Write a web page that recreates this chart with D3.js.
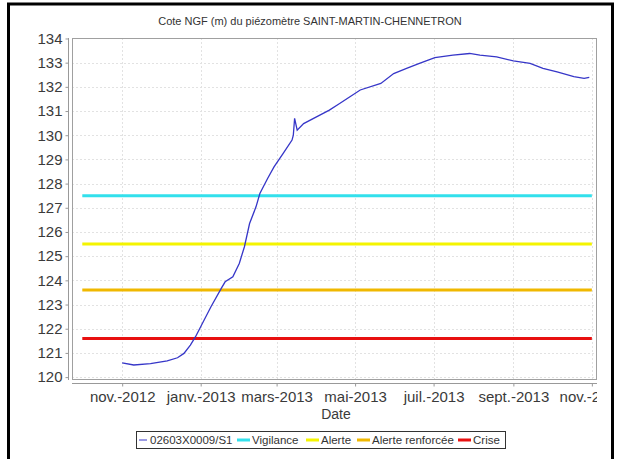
<!DOCTYPE html>
<html>
<head>
<meta charset="utf-8">
<title>Cote NGF SAINT-MARTIN-CHENNETRON</title>
<script src="https://cdn.jsdelivr.net/npm/d3@7"></script>
<style>
  body { margin: 0; background: #fff; }
  text { font-family: "Liberation Sans", Arial, sans-serif; }
</style>
</head>
<body>
<svg id="chart"></svg>
<script>
// piezometer readings (date, level in m NGF)
var dates = ['2012-11-01','2012-11-10','2012-11-23','2012-12-06','2012-12-14','2012-12-19','2012-12-24','2012-12-28',
  '2013-01-01','2013-01-09','2013-01-17','2013-01-20','2013-01-26','2013-01-31','2013-02-04','2013-02-08','2013-02-13',
  '2013-02-16','2013-02-22','2013-02-27','2013-03-06','2013-03-13','2013-03-14','2013-03-15','2013-03-17','2013-03-22',
  '2013-04-01','2013-04-11','2013-04-19','2013-04-27','2013-05-05','2013-05-21','2013-05-31','2013-06-10','2013-06-20',
  '2013-07-02','2013-07-16','2013-07-29','2013-08-06','2013-08-19','2013-09-01','2013-09-14','2013-09-24','2013-10-05',
  '2013-10-18','2013-10-26','2013-10-30'];
var levels = [120.59,120.50,120.56,120.67,120.80,120.98,121.32,121.67,
  122.08,122.91,123.67,123.94,124.15,124.70,125.39,126.35,127.04,
  127.59,128.21,128.69,129.24,129.80,130.00,130.70,130.21,130.48,
  130.76,131.04,131.31,131.59,131.87,132.14,132.55,132.76,132.97,
  133.21,133.31,133.38,133.31,133.24,133.07,132.97,132.76,132.62,
  132.42,132.35,132.39];

var thresholdNames = ['Vigilance', 'Alerte', 'Alerte renforcée', 'Crise'];
var thresholdValues = [127.5, 125.5, 123.6, 121.6];
var thresholdColors = ['#33e0ec', '#f4f400', '#f0b800', '#e81010'];
var thresholdSpan = ['2012-10-01', '2013-11-01'];

var seriesName = '02603X0009/S1';
var yTicks = d3.range(120, 135);
var xTickDates = ['2012-11-01','2013-01-01','2013-03-01','2013-05-01','2013-07-01','2013-09-01','2013-11-01'];
var xTickLabels = ['nov.-2012','janv.-2013','mars-2013','mai-2013','juil.-2013','sept.-2013','nov.-2013'];

var parse = d3.timeParse('%Y-%m-%d');
var W = 617, H = 459;
var plot = { left: 72, right: 597, top: 38, bottom: 380 };

var svg = d3.select('#chart').attr('width', W).attr('height', H);

// outer black frame (bottom edge is outside the picture)
svg.append('path')
  .attr('d', 'M8.5,' + H + 'V4H612.5V' + H)
  .attr('fill', 'none').attr('stroke', '#000').attr('stroke-width', 3);

var x = d3.scaleTime()
  .domain([parse('2012-09-23'), parse('2013-11-05')])
  .range([plot.left, plot.right]);
var y = d3.scaleLinear()
  .domain([119.88, 134.02])
  .range([plot.bottom, plot.top]);

// the last month label is cut at the plot's right edge, as in the source image
svg.append('defs').append('clipPath').attr('id', 'clip')
  .append('rect').attr('x', 0).attr('y', -5).attr('width', plot.right).attr('height', 40);

// gridlines
svg.append('g').selectAll('line').data(yTicks).enter().append('line')
  .attr('x1', plot.left).attr('x2', plot.right)
  .attr('y1', d => Math.round(y(d)) + 0.5).attr('y2', d => Math.round(y(d)) + 0.5)
  .attr('stroke', '#e2e2e2').attr('stroke-dasharray', '2,2');
svg.append('g').selectAll('line').data(xTickDates).enter().append('line')
  .attr('y1', plot.top).attr('y2', plot.bottom)
  .attr('x1', d => Math.round(x(parse(d))) + 0.5).attr('x2', d => Math.round(x(parse(d))) + 0.5)
  .attr('stroke', '#e2e2e2').attr('stroke-dasharray', '2,2');

// plot frame
svg.append('rect')
  .attr('x', plot.left + 0.5).attr('y', plot.top + 0.5)
  .attr('width', plot.right - plot.left - 1).attr('height', plot.bottom - plot.top - 1)
  .attr('fill', 'none').attr('stroke', '#a0a0a0');

// axes
var yAxis = d3.axisLeft(y).tickValues(yTicks).tickSize(3).tickPadding(3).tickFormat(d3.format('d'));
var gy = svg.append('g').attr('transform', 'translate(68.5,0)').call(yAxis);
gy.select('.domain').remove();
gy.append('line').attr('y1', plot.top).attr('y2', plot.bottom).attr('stroke', '#999');
gy.selectAll('.tick line').attr('stroke', '#999');
gy.selectAll('.tick text').attr('font-size', '15px').attr('fill', '#3a3a3a')
  .attr('font-family', '"Liberation Sans", Arial, sans-serif');

var xAxis = d3.axisBottom(x).tickValues(xTickDates.map(parse)).tickSize(3).tickPadding(5)
  .tickFormat((d, i) => xTickLabels[i]);
var gx = svg.append('g').attr('transform', 'translate(0,383.5)')
  .append('g').attr('clip-path', 'url(#clip)').call(xAxis);
gx.select('.domain').remove();
gx.append('line').attr('x1', plot.left).attr('x2', plot.right).attr('stroke', '#999');
gx.selectAll('.tick line').attr('stroke', '#999');
gx.selectAll('.tick text').attr('font-size', '15px').attr('fill', '#3a3a3a')
  .attr('font-family', '"Liberation Sans", Arial, sans-serif');

svg.append('text').attr('x', 336).attr('y', 419).attr('text-anchor', 'middle')
  .attr('font-size', '14px').attr('fill', '#3a3a3a').text('Date');

// title
svg.append('text').attr('x', 310).attr('y', 25).attr('text-anchor', 'middle')
  .attr('font-size', '11px').attr('fill', '#333')
  .text('Cote NGF (m) du piézomètre SAINT-MARTIN-CHENNETRON');

// threshold lines
svg.append('g').selectAll('line').data(thresholdValues).enter().append('line')
  .attr('x1', x(parse(thresholdSpan[0]))).attr('x2', x(parse(thresholdSpan[1])))
  .attr('y1', d => y(d)).attr('y2', d => y(d))
  .attr('stroke', (d, i) => thresholdColors[i]).attr('stroke-width', 3);

// level series
var series = dates.map((d, i) => [parse(d), levels[i]]);
svg.append('path').datum(series)
  .attr('fill', 'none').attr('stroke', '#3636c8').attr('stroke-width', 1.3)
  .attr('d', d3.line().x(d => x(d[0])).y(d => y(d[1])));

// legend
var legendItems = [{ name: seriesName, color: '#3636c8', w: 1 }].concat(
  thresholdNames.map((n, i) => ({ name: n, color: thresholdColors[i], w: 3 })));
var legendX = [139, 237, 306, 357, 458];
var lg = svg.append('g');
lg.append('rect').attr('x', 136.5).attr('y', 431.5).attr('width', 369).attr('height', 17)
  .attr('fill', '#fff').attr('stroke', '#333');
legendItems.forEach(function (it, i) {
  var lx = legendX[i];
  lg.append('line').attr('x1', lx).attr('x2', lx + (i ? 13 : 8)).attr('y1', 440).attr('y2', 440)
    .attr('stroke', it.color).attr('stroke-width', it.w);
  lg.append('text').attr('x', lx + (i ? 15 : 11)).attr('y', 444).attr('font-size', '11.5px')
    .attr('fill', '#333').text(it.name);
});
</script>
</body>
</html>
